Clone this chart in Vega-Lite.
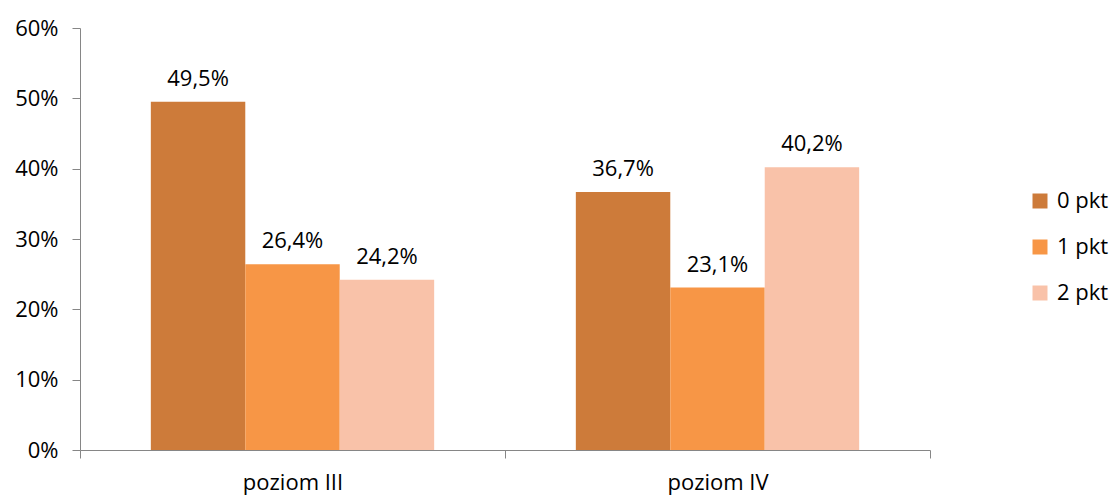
{
  "$schema": "https://vega.github.io/schema/vega-lite/v6.json",
  "width": 850,
  "height": 422,
  "autosize": "none",
  "padding": {"left": 80, "top": 28, "right": 179, "bottom": 45},
  "background": "white",
  "config": {
    "view": {"stroke": null},
    "font": "Open Sans",
    "locale": {"number": {"decimal": ",", "thousands": " ", "grouping": [3], "currency": ["", " zł"]}}
  },
  "data": {
    "values": [
      {"poziom": "poziom III", "pkt": "0 pkt", "value": 0.495},
      {"poziom": "poziom III", "pkt": "1 pkt", "value": 0.264},
      {"poziom": "poziom III", "pkt": "2 pkt", "value": 0.242},
      {"poziom": "poziom IV", "pkt": "0 pkt", "value": 0.367},
      {"poziom": "poziom IV", "pkt": "1 pkt", "value": 0.231},
      {"poziom": "poziom IV", "pkt": "2 pkt", "value": 0.402}
    ]
  },
  "encoding": {
    "x": {
      "field": "poziom", "type": "nominal",
      "scale": {"paddingInner": 0, "paddingOuter": 0},
      "axis": {
        "title": null, "labelAngle": 0, "labelFontSize": 22, "labelColor": "black",
        "tickBand": "extent", "tickSize": 8, "tickColor": "#868686", "domainColor": "#868686",
        "labelPadding": 14
      }
    },
    "xOffset": {"field": "pkt", "type": "nominal", "scale": {"paddingOuter": 0.75, "paddingInner": 0}},
    "y": {
      "field": "value", "type": "quantitative",
      "scale": {"domain": [0, 0.6]},
      "axis": {
        "title": null, "format": ".0%", "values": [0, 0.1, 0.2, 0.3, 0.4, 0.5, 0.6],
        "labelOverlap": false, "labelFlush": false,
        "grid": false, "labelFontSize": 22, "labelColor": "black", "tickSize": 8,
        "tickColor": "#868686", "domainColor": "#868686", "labelPadding": 14
      }
    }
  },
  "layer": [
    {
      "mark": {"type": "bar"},
      "encoding": {
        "color": {
          "field": "pkt", "type": "nominal",
          "scale": {"domain": ["0 pkt", "1 pkt", "2 pkt"], "range": ["#CD7B3A", "#F79646", "#F9C2A9"]},
          "legend": {
            "title": null, "orient": "none", "legendX": 949, "legendY": 162,
            "symbolType": "square", "symbolSize": 225, "symbolStrokeWidth": 0,
            "labelFontSize": 22, "labelColor": "black", "rowPadding": 24, "labelOffset": 6
          }
        }
      }
    },
    {
      "mark": {"type": "text", "fontSize": 22, "dy": -16, "baseline": "alphabetic", "color": "black"},
      "encoding": {"text": {"field": "value", "type": "quantitative", "format": ".1%"}}
    }
  ]
}
